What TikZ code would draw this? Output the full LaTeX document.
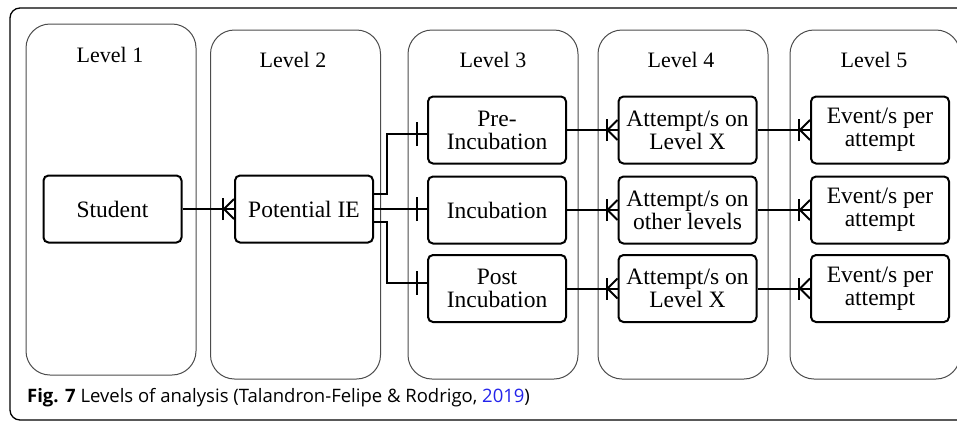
\documentclass[tikz,border=0pt]{standalone}
\usepackage{fontspec}
\setmainfont{Liberation Serif}
\newfontfamily\capfont{Open Sans}
\usepackage{xcolor}
\usetikzlibrary{arrows.meta}
\usetikzlibrary{positioning}
\usetikzlibrary{decorations.markings}

\definecolor{linkblue}{RGB}{35,35,235}

\tikzset{
	level/.style={draw=black!70, line width=1pt, rounded corners=24pt, minimum width=170pt, minimum height=349pt},
	levellabel/.style={font=\fontsize{22}{24}\selectfont},
	entity/.style={draw, line width=2pt, rounded corners=5pt, minimum width=138pt, minimum height=67pt, align=center, inner sep=2pt, font=\fontsize{23.5}{23}\selectfont},
	link/.style={line width=2pt},
	one end/.style={postaction={decorate}, decoration={markings, mark=at position 1 with {\draw[line width=2pt] (-10pt,-12pt) -- (-10pt,12pt);}}},
	many end/.style={postaction={decorate}, decoration={markings, mark=at position 1 with {\draw[line width=2pt] (-11pt,-11pt) -- (-11pt,11pt); \draw[line width=2pt] (0pt,10pt) -- (-10pt,0pt) -- (0pt,-10pt);}}}
}

\begin{document}
\begin{tikzpicture}[x=1pt, y=-1pt] % levels of analysis
	
	\clip (0,0) rectangle (957,424);
	
	%outer frame
	\draw[line width=1.3pt, rounded corners=10pt] (10,8) rectangle (990,420);
	
	%level columns
	\node[level, minimum height=351pt] (lv1) at (111,199.5) {};
	\node[level] (lv2) at (295.5,204.5) {};
	\node[level] (lv3) at (493,204.5) {};
	\node[level] (lv4) at (683,204.5) {};
	\node[level] (lv5) at (875,204.5) {};
	
	%level labels
	\node[levellabel] (lab1) at (110,55) {Level 1};
	\node[levellabel] (lab2) at (293,60) {Level 2};
	\node[levellabel] (lab3) at (493,60) {Level 3};
	\node[levellabel] (lab4) at (681,60) {Level 4};
	\node[levellabel] (lab5) at (874,60) {Level 5};
	
	%entities
	\node[entity] (stu) at (112.5,209) {Student};
	\node[entity] (pie) at (304,209) {Potential IE};
	
	\node[entity] (pre) at (497,130) {Pre-\\Incubation};
	\node[entity] (inc) at (497,210) {Incubation};
	\node[entity] (post) at (497,288.5) {Post\\Incubation};
	
	\node[entity] (att1) at (687.5,130) {Attempt/s on\\Level X};
	\node[entity] (att2) at (687.5,210) {Attempt/s on\\other levels};
	\node[entity] (att3) at (687.5,288.5) {Attempt/s on\\Level X};
	
	\node[entity] (ev1) at (880,130) {Event/s per\\attempt};
	\node[entity] (ev2) at (880,210) {Event/s per\\attempt};
	\node[entity] (ev3) at (880,288.5) {Event/s per\\attempt};
	
	%connectors
	\draw[link, many end] (stu) -- (pie);
	
	\draw[link, one end] ([yshift=15pt]pie.east) -- ++(13,0) |- ([yshift=-4pt]pre.west);
	\draw[link, one end] (pie.east) -- (pie.east -| inc.west);
	\draw[link, one end] ([yshift=-13pt]pie.east) -- ++(13,0) |- ([yshift=6pt]post.west);
	
	\draw[link, many end] (pre) -- (att1);
	\draw[link, many end] (inc) -- (att2);
	\draw[link, many end] (post) -- (att3);
	
	\draw[link, many end] (att1) -- (ev1);
	\draw[link, many end] (att2) -- (ev2);
	\draw[link, many end] (att3) -- (ev3);
	
	%caption
	\node[anchor=base west, inner sep=0pt, font=\capfont\fontsize{18.5}{20}\selectfont] (cap) at (27,402)
		{\textbf{Fig. 7} Levels of analysis (Talandron-Felipe \& Rodrigo, \textcolor{linkblue}{2019})};
	
\end{tikzpicture}
\end{document}
